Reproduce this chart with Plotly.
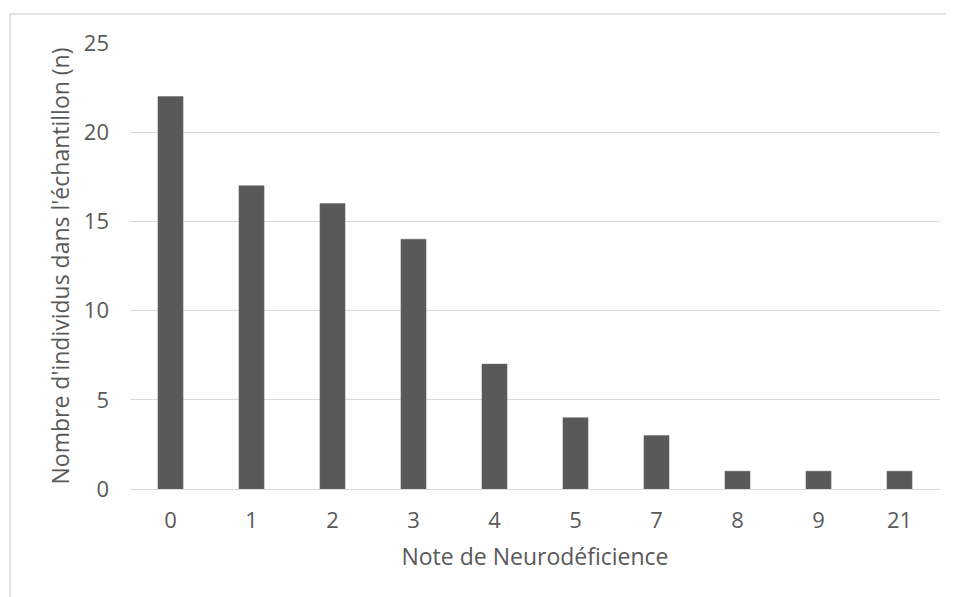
import plotly.graph_objects as go

categories = ["0", "1", "2", "3", "4", "5", "7", "8", "9", "21"]
counts = [22, 17, 16, 14, 7, 4, 3, 1, 1, 1]
y_ticks = [0, 5, 10, 15, 20, 25]

grey_text = "#595959"
grid = "#d9d9d9"
font_family = "Open Sans"

fig = go.Figure()
fig.add_trace(go.Bar(
    x=categories, y=counts,
    marker=dict(color="#595959", line=dict(color="#6a6a6a", width=0.5)),
    hoverinfo="x+y",
))

fig.update_layout(
    width=946, height=589,
    margin=dict(l=122, r=14, t=35, b=108),
    paper_bgcolor="white", plot_bgcolor="white",
    bargap=0.69,
    showlegend=False,
    font=dict(family=font_family, color=grey_text, size=22),
    xaxis=dict(
        type="category",
        title=dict(text="Note de Neurodéficience", font=dict(size=23, color=grey_text), standoff=15),
        showgrid=False, showline=True, linecolor=grid, linewidth=1,
        ticks="", tickfont=dict(size=22, color=grey_text),
        ticklabelstandoff=12,
    ),
    yaxis=dict(
        range=[0, 25], tickvals=y_ticks,
        title=dict(text="Nombre d'individus dans l'échantillon (n)", font=dict(size=23, color=grey_text), standoff=7),
        showgrid=True, gridcolor=grid, gridwidth=1,
        zeroline=False, showline=False, ticks="",
        tickfont=dict(size=22, color=grey_text),
        ticklabelstandoff=20,
    ),
    shapes=[dict(
        type="rect", xref="paper", yref="paper",
        x0=-0.148, x1=1.05, y0=-0.4, y1=1.065,
        line=dict(color=grid, width=1.5), fillcolor="rgba(0,0,0,0)", layer="below",
    )],
)

fig.write_html("out.html")
